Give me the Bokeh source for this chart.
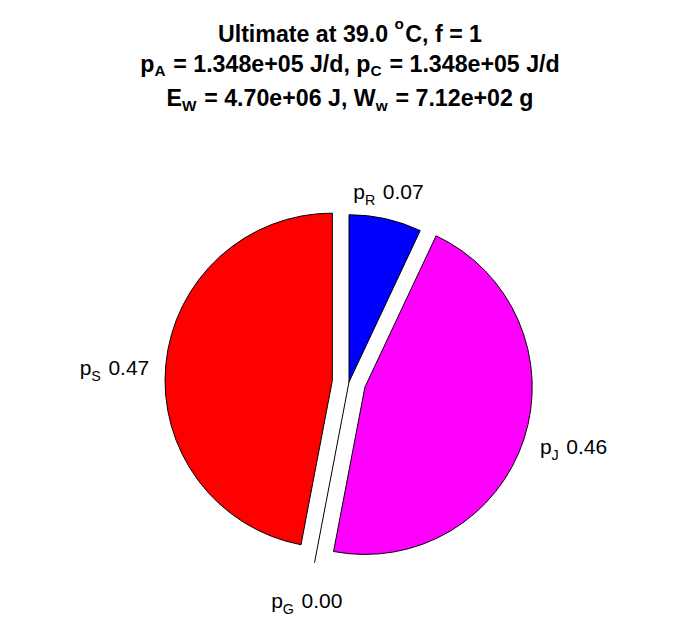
import numpy as np
from bokeh.plotting import figure
from bokeh.models import Range1d, ColumnDataSource
from bokeh.core.properties import value
from bokeh.embed import file_html
from bokeh.resources import INLINE

# ---------------- data ----------------
slice_names = ["S", "G", "J", "R"]          # p_S, p_G, p_J, p_R (anticlockwise from top)
slice_values = [0.47, 0.00, 0.46, 0.07]
slice_colors = ["#ff0000", "#ffffff", "#ff00ff", "#0000ff"]
slice_explode = [1, 1, 1, 0]
temperature = 39.0
f_level = 1
p_A = 1.348e5
p_C = 1.348e5
E_W = 4.70e6
W_w = 7.12e2

# ---------------- layout ----------------
W, H = 696, 618
CX, CY = 348.5, 236.5       # pie centre (data units = pixels, y up)
R = 167.3
EXPLODE = 0.1
LABEL_R = 1.2
# small per-label nudges (pixels, x right / y up) mimicking the original label placement
label_nudge = {"S": (-18, 1.3), "G": (-1.5, 2.5), "J": (17.7, 10.0), "R": (-4.3, 1.8)}

REG = {' ': 278, '.': 278, ',': 278, '+': 584, '=': 584, '/': 278, '-': 333,
       'p': 556, 'e': 556, 'd': 556, 'g': 556, 'w': 722, 'o': 556, 'f': 278, 'a': 556,
       't': 278, 'i': 222, 'l': 222, 'm': 833,
       'A': 667, 'C': 722, 'E': 667, 'G': 778, 'J': 500, 'R': 722, 'S': 667, 'U': 722, 'W': 944}
BOLD = {' ': 278, '.': 278, ',': 278, '+': 584, '=': 584, '/': 278, '-': 333,
        'p': 611, 'e': 556, 'd': 611, 'g': 611, 'w': 778, 'o': 611, 'f': 333, 'a': 556,
        't': 333, 'i': 278, 'l': 278, 'm': 889,
        'A': 722, 'C': 722, 'E': 667, 'G': 778, 'J': 556, 'R': 722, 'S': 667, 'U': 722, 'W': 944}
for d in "0123456789":
    REG[d] = 556
    BOLD[d] = 556


def tw(s, size, bold):
    tbl = BOLD if bold else REG
    return sum(tbl.get(ch, 556) for ch in s) * size / 1000.0


def layout(segments, cx, base_y, size, bold, sub_ratio, sub_drop, sup_rise, sub_gap):
    sizes, widths = [], []
    for txt, kind in segments:
        sz = size if kind == 'n' else size * sub_ratio
        w = tw(txt, sz, bold) + (sub_gap * size if kind != 'n' else 0)
        sizes.append(sz)
        widths.append(w)
    total = sum(widths)
    x = cx - total / 2
    rows = []
    for (txt, kind), sz, w in zip(segments, sizes, widths):
        y = base_y
        if kind == 'sub':
            y -= sub_drop * size
        elif kind == 'sup':
            y += sup_rise * size
        lead = len(txt) - len(txt.lstrip(' '))
        xs = x + tw(' ' * lead, sz, bold)
        rows.append((xs, y, txt.strip(' '), f"{sz:.1f}px"))
        x += w
    return rows


p = figure(width=W, height=H, output_backend="svg", toolbar_location=None,
           x_range=Range1d(0, W), y_range=Range1d(0, H), min_border=0,
           x_axis_type=None, y_axis_type=None, outline_line_color=None,
           background_fill_color="white", border_fill_color="white")
p.grid.visible = False

# ---------------- pie ----------------
vals = np.array(slice_values)
cum = np.concatenate([[0.0], np.cumsum(vals)])
start = np.pi / 2 + 2 * np.pi * cum[:-1]
end = np.pi / 2 + 2 * np.pi * cum[1:]
mid = (start + end) / 2
ex = np.array(slice_explode, dtype=float)
ox = CX + ex * EXPLODE * R * np.cos(mid)
oy = CY + ex * EXPLODE * R * np.sin(mid)

nz = vals > 0
wsrc = ColumnDataSource(dict(x=ox[nz], y=oy[nz], s=start[nz], e=end[nz],
                             c=[c for c, k in zip(slice_colors, nz) if k]))
p.wedge(x="x", y="y", radius=R, start_angle="s", end_angle="e", direction="anticlock",
        fill_color="c", line_color="black", line_width=1, source=wsrc)

zs = ~nz
if zs.any():
    p.segment(x0=CX + 0 * mid[zs], y0=CY + 0 * mid[zs],
              x1=CX + (1 + EXPLODE) * R * np.cos(mid[zs]),
              y1=CY + (1 + EXPLODE) * R * np.sin(mid[zs]),
              line_color="black", line_width=1)

# ---------------- labels ----------------
LS = 21
rows = []
for name, v, m, e in zip(slice_names, slice_values, mid, ex):
    dist = (e * EXPLODE + LABEL_R) * R
    ax = CX + dist * np.cos(m) + label_nudge[name][0]
    ay = CY + dist * np.sin(m) + label_nudge[name][1]
    segs = [("p", 'n'), (name, 'sub'), (f" {v:.2f}", 'n')]
    rows += layout(segs, ax, ay - 0.358 * LS, LS, False, 0.68, 0.38, 0.0, 0.08)
lsrc = ColumnDataSource(dict(x=[r[0] for r in rows], y=[r[1] for r in rows],
                             t=[r[2] for r in rows], fs=[r[3] for r in rows]))
p.text(x="x", y="y", text="t", text_font_size="fs", source=lsrc,
       text_font=value("Liberation Sans"), text_color="black",
       text_align="left", text_baseline="alphabetic")

# ---------------- title ----------------
TS = 23.2
title_lines = [
    [(f"Ultimate at {temperature:.1f} ", 'n'), ("o", 'sup'), (f"C, f = {f_level}", 'n')],
    [("p", 'n'), ("A", 'sub'), (f" = {p_A:.3e} J/d, p", 'n'), ("C", 'sub'), (f" = {p_C:.3e} J/d", 'n')],
    [("E", 'n'), ("W", 'sub'), (f" = {E_W:.2e} J, W", 'n'), ("w", 'sub'), (f" = {W_w:.2e} g", 'n')],
]
title_base = [H - 33.3, H - 63.3, H - 97.7]
trows = []
for segs, by in zip(title_lines, title_base):
    trows += layout(segs, 349.5, by, TS, True, 0.66, 0.3, 0.45, 0.06)
tsrc = ColumnDataSource(dict(x=[r[0] for r in trows], y=[r[1] for r in trows],
                             t=[r[2] for r in trows], fs=[r[3] for r in trows]))
p.text(x="x", y="y", text="t", text_font_size="fs", source=tsrc,
       text_font=value("Liberation Sans"), text_font_style="bold", text_color="black",
       text_align="left", text_baseline="alphabetic")

open("out.html", "w").write(file_html(p, INLINE))
